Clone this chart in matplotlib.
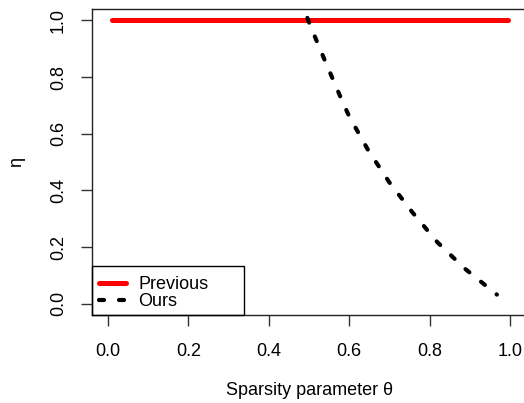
import numpy as np
import matplotlib
matplotlib.use("Agg")
import matplotlib.pyplot as plt
from matplotlib.patches import Rectangle

plt.rcParams["font.family"] = ["Liberation Sans", "DejaVu Sans"]

# values
prev_theta = [0.01, 0.995]
prev_eta = [1.0, 1.0]

ours_theta = [0.47, 0.4875, 0.505, 0.5425, 0.58, 0.60, 0.6475, 0.70, 0.7575, 0.82, 0.8875, 0.9675]
ours_eta = [1.12, 1.04, 0.975, 0.848, 0.724, 0.661, 0.541, 0.428, 0.322, 0.216, 0.124, 0.032]

xticks = [0.0, 0.2, 0.4, 0.6, 0.8, 1.0]
yticks = [0.0, 0.2, 0.4, 0.6, 0.8, 1.0]

W, H = 524, 403
fig = plt.figure(figsize=(W / 100, H / 100), dpi=100)
ax_l, ax_b, ax_r, ax_t = 92, 315, 526, 9
ax = fig.add_axes([ax_l / W, (H - ax_b) / H, (ax_r - ax_l) / W, (ax_b - ax_t) / H])

ax.plot(prev_theta, prev_eta, color="#ff0000", lw=3.6, solid_capstyle="round", label="Previous")
ax.plot(ours_theta, ours_eta, color="black", lw=3.0, dashes=(1.2, 3.6),
        dash_capstyle="round", label="Ours")

ax.set_xlim(-0.04, 1.04)
ax.set_ylim(-0.04, 1.04)
ax.set_xticks(xticks)
ax.set_yticks(yticks)
ax.set_xticklabels([f"{v:.1f}" for v in xticks])
ax.set_yticklabels([f"{v:.1f}" for v in yticks], rotation=90, va="center")
ax.tick_params(axis="both", direction="out", length=8, width=1, color="#333333",
               labelsize=13)
ax.tick_params(axis="x", pad=12)
ax.tick_params(axis="y", pad=10)
for s in ax.spines.values():
    s.set_linewidth(1)
    s.set_color("#222222")

ax.set_xlabel("Sparsity parameter \u03b8", fontsize=13, labelpad=16)
ax.set_ylabel("\u03b7", fontsize=13, labelpad=18)

# legend entries without frame, box drawn by hand (R style)
pw, ph = ax_r - ax_l, ax_b - ax_t
leg = ax.legend(loc="lower left", bbox_to_anchor=(2 / pw, 0), fontsize=13, frameon=False,
                borderaxespad=0, handlelength=1.5, handletextpad=0.7,
                labelspacing=0.0, borderpad=0.25)
ax.add_patch(Rectangle((0, 0), (244 - ax_l) / pw, (ax_b - 266) / ph, transform=ax.transAxes,
                       fill=False, edgecolor="black", lw=1, zorder=5, clip_on=False))

fig.savefig("out.png", dpi=100)
